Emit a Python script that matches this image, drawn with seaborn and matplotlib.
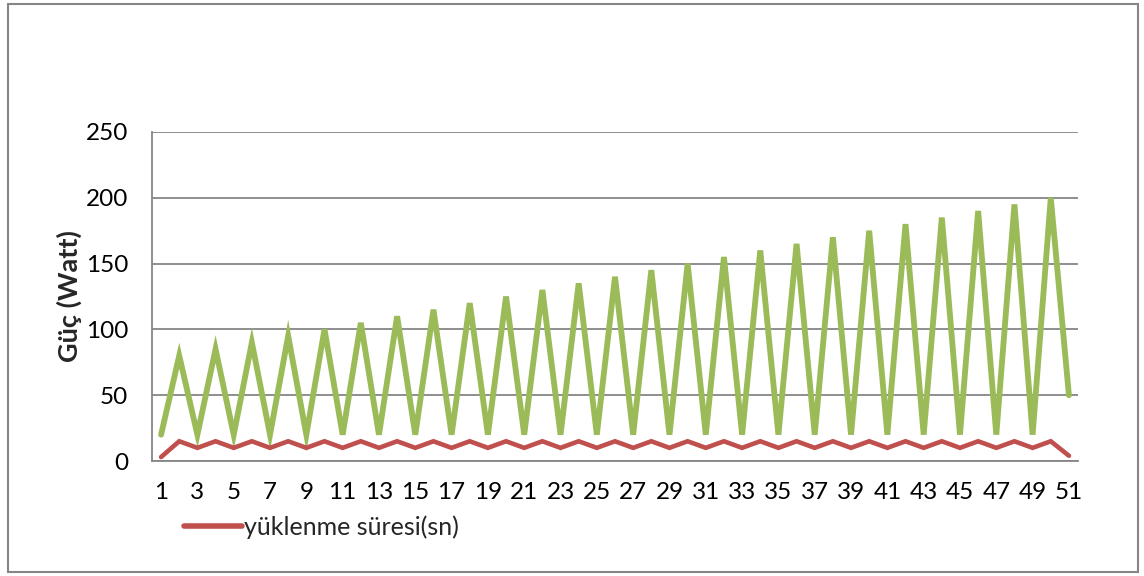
import matplotlib
matplotlib.use("Agg")
import matplotlib.pyplot as plt
import seaborn as sns
import pandas as pd
from matplotlib.lines import Line2D
from matplotlib.patches import Rectangle

# Measurement index 1..51
x_values = list(range(1, 52))

# Power draw (W): alternating low / rising peaks
guc_watt = [20, 80, 20, 85, 20, 90, 20, 95, 20, 100,
            20, 105, 20, 110, 20, 115, 20, 120, 20, 125,
            20, 130, 20, 135, 20, 140, 20, 145, 20, 150,
            20, 155, 20, 160, 20, 165, 20, 170, 20, 175,
            20, 180, 20, 185, 20, 190, 20, 195, 20, 200,
            50]

# Loading time (s)
yuklenme_suresi = [3, 15, 10, 15, 10, 15, 10, 15, 10, 15,
                   10, 15, 10, 15, 10, 15, 10, 15, 10, 15,
                   10, 15, 10, 15, 10, 15, 10, 15, 10, 15,
                   10, 15, 10, 15, 10, 15, 10, 15, 10, 15,
                   10, 15, 10, 15, 10, 15, 10, 15, 10, 15,
                   4]

y_ticks = [0, 50, 100, 150, 200, 250]
x_ticks = list(range(1, 52, 2))

green = "#9BBB59"
red = "#C0504D"
grid_gray = "#868686"

sns.set_theme(style="white")
plt.rcParams["font.family"] = ["Lato", "DejaVu Sans"]

df = pd.DataFrame({"x": x_values, "guc": guc_watt, "sure": yuklenme_suresi})

fig = plt.figure(figsize=(11.44, 5.76), dpi=100)
ax = fig.add_axes([152 / 1144, 1 - 461 / 576, (1078 - 152) / 1144, (461 - 132) / 576])

sns.lineplot(data=df, x="x", y="guc", ax=ax, color=green, linewidth=4.2,
             solid_joinstyle="miter", solid_capstyle="round")
sns.lineplot(data=df, x="x", y="sure", ax=ax, color=red, linewidth=3.3,
             solid_joinstyle="miter", solid_capstyle="round")

ax.set_xlim(0.5, 51.5)
ax.set_ylim(0, 250)
ax.set_yticks(y_ticks)
ax.set_xticks(x_ticks)
ax.set_xticklabels([str(v) for v in x_ticks])
ax.tick_params(axis="both", length=0, labelsize=17.5, colors="black")
ax.tick_params(axis="y", pad=17)
ax.tick_params(axis="x", pad=15)
ax.yaxis.grid(True, color=grid_gray, linewidth=1.3)
ax.set_axisbelow(True)
ax.set_xlabel("")
ax.set_ylabel("Güç (Watt)", fontsize=19.5, fontweight="bold", labelpad=3)

for side in ["top", "right"]:
    ax.spines[side].set_visible(False)
for side in ["left", "bottom"]:
    ax.spines[side].set_color(grid_gray)
    ax.spines[side].set_linewidth(1.3)

handle = Line2D([], [], color=red, linewidth=4, solid_capstyle="round")
fig.legend([handle], ["yüklenme süresi(sn)"], loc="center left",
           bbox_to_anchor=(184 / 1144, 1 - 527 / 576), frameon=False,
           fontsize=18, handlelength=2.3, handletextpad=0.1, borderaxespad=0,
           borderpad=0)

# Outer chart border
fig.patches.append(Rectangle((8 / 1144, 4 / 576), 1130 / 1144, 568 / 576,
                             transform=fig.transFigure, fill=False,
                             edgecolor=grid_gray, linewidth=1.5))

fig.savefig("out.png", dpi=100)
